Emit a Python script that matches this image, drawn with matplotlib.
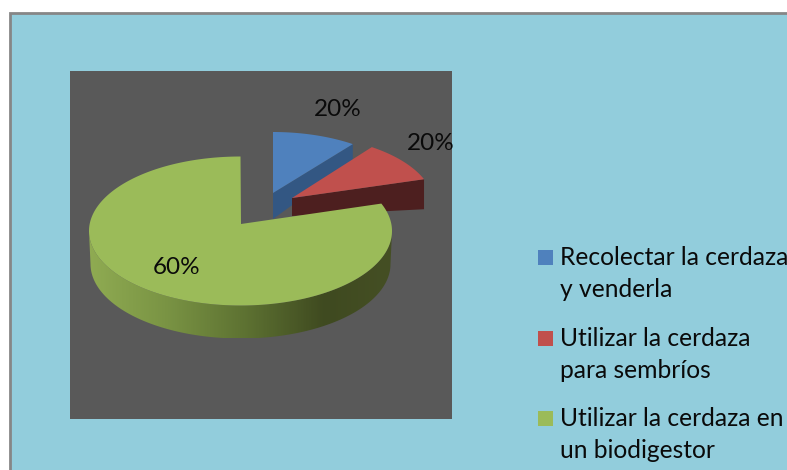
import numpy as np
import matplotlib
matplotlib.use("Agg")
import matplotlib.pyplot as plt
from matplotlib.colors import LinearSegmentedColormap
from matplotlib.patches import Polygon, Rectangle

categories = ["Recolectar la cerdaza\ny venderla",
              "Utilizar la cerdaza\npara sembríos",
              "Utilizar la cerdaza en\nun biodigestor"]
# share of the circle each slice really takes in the picture
slice_shares = [9.5, 9.5, 81.0]
# what the data labels say
label_texts = ["20%", "20%", "60%"]

TOP_COLORS = ["#4f81bd", "#c0504d", "#9bbb59"]
SIDE_COLORS = ["#335783", "#4d1f1f", None]
BG = "#92cddc"
PANEL = "#595959"

plt.rcParams["font.family"] = ["Lato", "DejaVu Sans"]

fig = plt.figure(figsize=(7.87, 4.7), dpi=100, facecolor="white")
ax = fig.add_axes([0, 0, 1, 1])
ax.axis("off")


def arc(cx, cy, rx, ry, a0, a1, n=120):
    t = np.radians(np.linspace(a0, a1, n))
    return np.column_stack([cx + rx * np.cos(t), cy - ry * np.sin(t)])


# chart area and plot area
ax.add_patch(Rectangle((10, 13), 800, 480, fc=BG, ec="#868686", lw=2))
ax.add_patch(Rectangle((70, 71), 382, 348, fc=PANEL, ec="none"))

# slice angles, clockwise from the top
edges = 90 - 3.6 * np.concatenate([[0], np.cumsum(slice_shares)])

# exploded slices: ellipse centre, apex, depth at apex and at the rim
small = [dict(c=(273, 202), apex=(273, 193), d_apex=26, d_rim=17),
         dict(c=(292, 205), apex=(292, 198), d_apex=18, d_rim=30)]
for i, s in enumerate(small):
    a0, a1 = edges[i], edges[i + 1]
    pts = arc(s["c"][0], s["c"][1], 142, 70, a0, a1, 40)
    apex = np.array(s["apex"], dtype=float)
    end = pts[-1]
    side = [apex, end, end + [0, s["d_rim"]], apex + [0, s["d_apex"]]]
    ax.add_patch(Polygon(side, fc=SIDE_COLORS[i], ec="none", zorder=2))
    ax.add_patch(Polygon(np.vstack([apex, pts]), fc=TOP_COLORS[i], ec="none", zorder=3))

# big slice: rim with a shaded gradient, then the top
CX, CY, RX, RY, DEPTH = 240.5, 231, 151.5, 74.5, 33
upper = arc(CX, CY, RX, RY, 180, 360)
lower = arc(CX, CY + DEPTH, RX - 1.5, RY, 360, 180)
wall = Polygon(np.vstack([upper, lower]), transform=ax.transData, fc="none", ec="none")
ax.add_patch(wall)
shade = LinearSegmentedColormap.from_list(
    "rim", [(0, "#8fab52"), (0.25, "#7a9444"), (0.5, "#5f7433"),
            (0.78, "#3f4a20"), (1, "#454f24")])
im = ax.imshow(np.linspace(0, 1, 300)[None, :], cmap=shade, aspect="auto",
               extent=(CX - RX, CX + RX, CY + DEPTH + RY, CY - 5), zorder=4)
im.set_clip_path(wall)

top = arc(CX, CY, RX, RY, edges[2], edges[3], 240)
ax.add_patch(Polygon(np.vstack([[241, 224], top]), fc=TOP_COLORS[2], ec="none", zorder=5))

# data labels
for txt, (x, y) in zip(label_texts, [(338, 109), (431, 143), (177, 267)]):
    ax.text(x, y, txt, fontsize=17.5, color="#0a0a0a", ha="center", va="center", zorder=6)

# legend
for name, col, y in zip(categories, TOP_COLORS, [257.5, 338.5, 418.5]):
    ax.add_patch(Rectangle((538, y - 7.5), 15, 15, fc=col, ec="none"))
    ax.text(560, y + 16, name, fontsize=17.7, color="#0a0a0a", ha="left", va="center",
            linespacing=1.48, clip_on=False)

ax.set_xlim(0, 787)
ax.set_ylim(470, 0)
fig.savefig("out.png", dpi=100, facecolor="white")
